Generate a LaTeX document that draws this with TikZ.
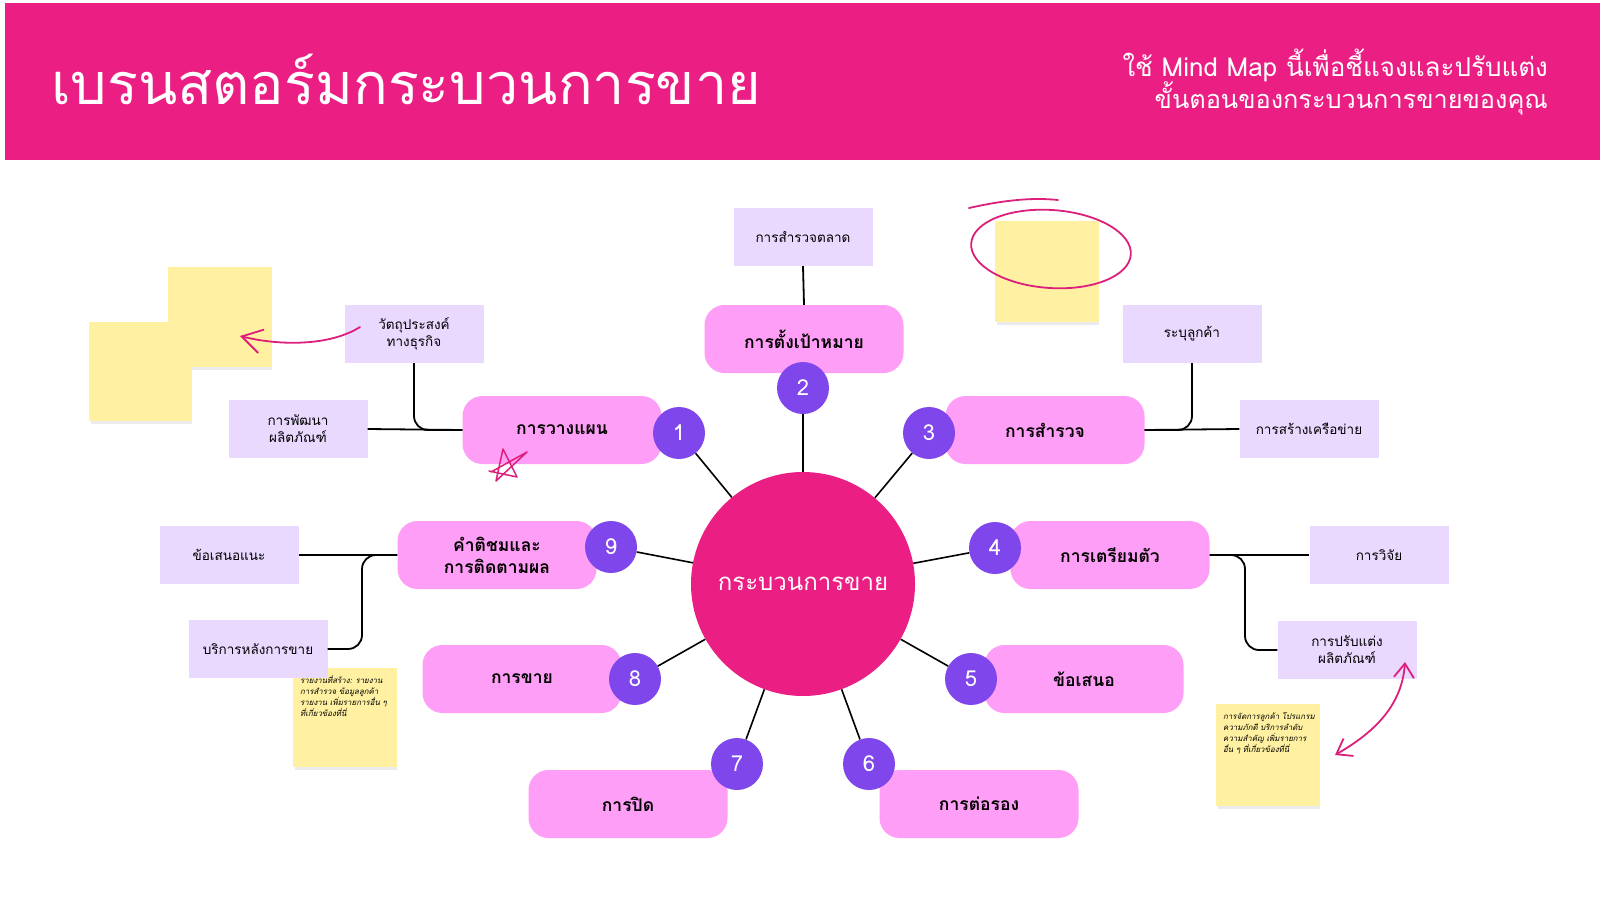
\documentclass[tikz,border=0pt]{standalone}
\usepackage{fontspec}
\setmainfont{Loma}[Script=Thai]
\usetikzlibrary{arrows.meta}
\definecolor{mag}{HTML}{EB1E84}
\definecolor{pinkbox}{HTML}{FF9EF6}
\definecolor{purp}{HTML}{7F47EB}
\definecolor{lav}{HTML}{E9D9FF}
\definecolor{sticky}{HTML}{FFF1A1}
\definecolor{pen}{HTML}{DD1F7C}
\tikzset{
  mainbox/.style={rectangle, rounded corners=20pt, fill=pinkbox, minimum width=199pt, minimum height=68pt, inner sep=0pt, align=center, font=\bfseries\fontsize{17.5}{22}\selectfont},
  numc/.style={circle, fill=purp, minimum size=52pt, inner sep=0pt, text=white, font=\fontsize{22}{24}\selectfont},
  subbox/.style={rectangle, fill=lav, minimum width=139pt, minimum height=58pt, inner sep=0pt, align=center, font=\fontsize{13.5}{17}\selectfont},
  stickynote/.style={rectangle, fill=sticky, minimum width=104pt, minimum height=100pt, inner sep=0pt},
  notetext/.style={anchor=north west, inner sep=0pt, align=left, font=\itshape\fontsize{7.9}{11}\selectfont},
  link/.style={draw=black, line width=1.8pt},
  spoke/.style={draw=black, line width=1.6pt},
  penline/.style={draw=pen, line width=1.8pt, line cap=round, line join=round},
  barb/.style={-{Straight Barb[length=20pt,width=24pt]}},
  shade/.style={fill=black!8}
}
\begin{document}
\begin{tikzpicture}[x=1pt,y=-1pt]
\useasboundingbox (0,0) rectangle (1600,900);
\fill[white] (0,0) rectangle (1600,900);
% header
\fill[mag] (5,3) rectangle (1600,160);
\node[anchor=base west, inner sep=0pt, text=white, font=\fontsize{57.5}{64}\selectfont] (title) at (51,104) {เบรนสตอร์มกระบวนการขาย};
\node[anchor=base east, inner sep=0pt, text=white, font=\fontsize{26}{30}\selectfont] (sub1) at (1548,76) {ใช้ Mind Map นี้เพื่อชี้แจงและปรับแต่ง};
\node[anchor=base east, inner sep=0pt, text=white, font=\fontsize{25.3}{30}\selectfont] (sub2) at (1548,108) {ขั้นตอนของกระบวนการขายของคุณ};

% sticky notes
\fill[shade] (170,364) rectangle (272,370);
\node[stickynote, minimum width=104pt, minimum height=100pt] (s1) at (220,317) {};
\fill[shade] (91,418) rectangle (192,424);
\node[stickynote, minimum width=103pt, minimum height=99pt] (s2) at (140.5,371.5) {};
\fill[shade] (997,319) rectangle (1099,325);
\node[stickynote, minimum width=104pt, minimum height=101pt] (s3) at (1047,271.5) {};
\fill[shade] (295,764) rectangle (397,770);
\node[stickynote, minimum width=104pt, minimum height=99pt] (s4) at (345,717.5) {};
\node[notetext] (t4) at (300,675) {รายงานที่สร้าง: รายงาน\\การสำรวจ ข้อมูลลูกค้า\\รายงาน เพิ่มรายการอื่น ๆ\\ที่เกี่ยวข้องที่นี่};
\fill[shade] (1218,803) rectangle (1320,809);
\node[stickynote, minimum width=104pt, minimum height=102pt] (s5) at (1268,755) {};
\node[notetext] (t5) at (1223,712) {การจัดการลูกค้า โปรแกรม\\ความภักดี บริการลำดับ\\ความสำคัญ เพิ่มรายการ\\อื่น ๆ ที่เกี่ยวข้องที่นี่};

% center
\node[circle, fill=mag, minimum size=224pt, inner sep=0pt, text=white, font=\fontsize{24}{28}\selectfont] (c) at (803,584) {กระบวนการขาย};

% main boxes
\node[mainbox] (m1) at (562,430) {การวางแผน};
\node[mainbox] (m2) at (804,339) {การตั้งเป้าหมาย};
\node[mainbox] (m3) at (1045,430) {การสำรวจ};
\node[mainbox] (m4) at (1110,555) {การเตรียมตัว};
\node[mainbox] (m5) at (1084,679) {ข้อเสนอ};
\node[mainbox] (m6) at (979,804) {การต่อรอง};
\node[mainbox] (m7) at (628,804) {การปิด};
\node[mainbox] (m8) at (522,679) {การขาย};
\node[mainbox] (m9) at (497,555) {คำติชมและ\\การติดตามผล};

% number circles
\node[numc] (n1) at (679,433) {1};
\node[numc] (n2) at (803,388) {2};
\node[numc] (n3) at (929,433) {3};
\node[numc] (n4) at (995,548) {4};
\node[numc] (n5) at (971,679) {5};
\node[numc] (n6) at (869,764) {6};
\node[numc] (n7) at (737,764) {7};
\node[numc] (n8) at (635,679) {8};
\node[numc] (n9) at (611,547) {9};

% spokes
\foreach \k in {1,...,9} { \draw[spoke] (c) -- (n\k); }

% sub boxes
\node[subbox] (a1) at (803,237) {การสำรวจตลาด};
\node[subbox] (b1) at (414,334) {วัตถุประสงค์\\ทางธุรกิจ};
\node[subbox] (b2) at (298,429) {การพัฒนา\\ผลิตภัณฑ์};
\node[subbox] (d1) at (1192,334) {ระบุลูกค้า};
\node[subbox] (d2) at (1309,429) {การสร้างเครือข่าย};
\node[subbox] (e1) at (1379,555) {การวิจัย};
\node[subbox] (e2) at (1347,650) {การปรับแต่ง\\ผลิตภัณฑ์};
\node[subbox] (f1) at (229,555) {ข้อเสนอแนะ};
\node[subbox] (f2) at (258,649) {บริการหลังการขาย};

% links
\draw[link] (a1.south) -- (m2.north);
\draw[link] (m1.west) -- (b2.east);
\draw[link, rounded corners=14pt] (b1.south) |- (m1.west);
\draw[link] (m3.east) -- (d2.west);
\draw[link, rounded corners=14pt] (d1.south) |- (m3.east);
\draw[link] (m4.east) -- (e1.west);
\coordinate (k4) at (1245,555);
\draw[link, rounded corners=14pt] (m4.east) -- (k4) |- (e2.west);
\draw[link] (m9.west) -- (f1.east);
\coordinate (k9) at (362,555);
\draw[link, rounded corners=14pt] (m9.west) -- (k9) |- (f2.east);

% pen annotations
\coordinate (pa) at (360,327);
\coordinate (pb) at (240,336);
\draw[penline, barb] (pa) .. controls (330,346) and (280,346) .. (pb);
\draw[penline, rotate around={-4:(1051,249)}] (1051,249) ellipse [x radius=80, y radius=39];
\coordinate (ta) at (969,208);
\coordinate (tb) at (1058,200);
\draw[penline] (ta) .. controls (1000,201) and (1030,197) .. (tb);
\coordinate (qa) at (1405,662);
\coordinate (qb) at (1335,755);
\draw[penline, {Straight Barb[length=14pt,width=20pt]}-{Straight Barb[length=14pt,width=20pt]}] (qa) .. controls (1402,705) and (1375,732) .. (qb);
% star
\draw[penline, line width=1.5pt] (491,472) -- (527,452) -- (496,481) -- (503,449) -- (517,477) -- (489,471);
\end{tikzpicture}
\end{document}
